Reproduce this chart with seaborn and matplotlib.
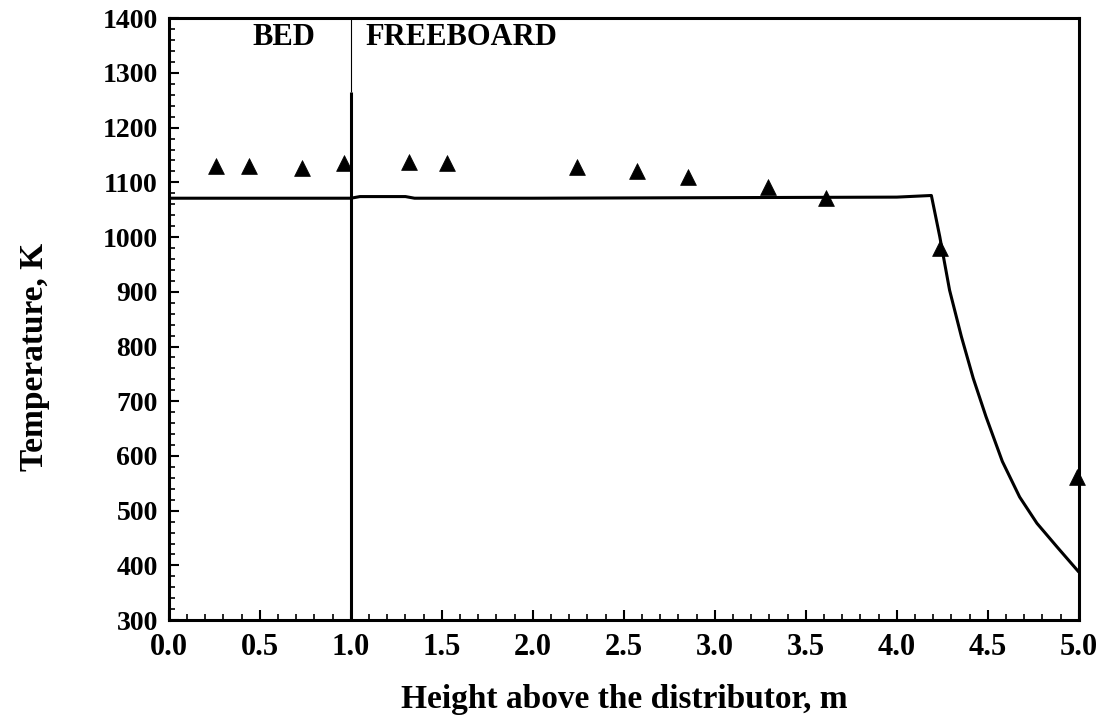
import numpy as np
import pandas as pd
import matplotlib
matplotlib.use("Agg")
import matplotlib.pyplot as plt
from matplotlib.ticker import MultipleLocator
import seaborn as sns

# Model prediction: temperature profile along the column
model_height = [0.0, 1.0, 1.05, 1.30, 1.35, 2.0, 3.0, 4.0, 4.19,
                4.236, 4.29, 4.355, 4.42, 4.49, 4.58, 4.675, 4.77, 4.88, 5.0]
model_temp = [1071, 1071, 1074, 1074, 1071, 1071, 1072, 1073, 1076,
              1001, 903, 818, 742, 672, 590, 525, 477, 434, 388]

# Measured temperatures
meas_height = [0.26, 0.44, 0.73, 0.96, 1.32, 1.53, 2.24, 2.57, 2.85,
               3.29, 3.61, 4.24, 4.99]
meas_temp = [1129, 1129, 1126, 1135, 1138, 1135, 1128, 1120, 1109,
             1091, 1071, 980, 562]

bed_height = 1.0
region_labels = ["BED", "FREEBOARD"]
x_ticks = [0.0, 0.5, 1.0, 1.5, 2.0, 2.5, 3.0, 3.5, 4.0, 4.5, 5.0]
y_ticks = [300, 400, 500, 600, 700, 800, 900, 1000, 1100, 1200, 1300, 1400]

sns.set_style("ticks")
plt.rcParams["font.family"] = ["Liberation Serif", "DejaVu Serif"]
plt.rcParams["font.weight"] = "bold"
plt.rcParams["text.color"] = "black"
plt.rcParams["axes.labelcolor"] = "black"
plt.rcParams["xtick.color"] = "black"
plt.rcParams["ytick.color"] = "black"
plt.rcParams["axes.edgecolor"] = "black"

model_df = pd.DataFrame({"height": model_height, "temp": model_temp})
meas_df = pd.DataFrame({"height": meas_height, "temp": meas_temp})

fig = plt.figure(figsize=(11.11, 7.27), dpi=100)
ax = fig.add_axes([0.152, 0.147, 0.819, 0.828])

sns.lineplot(data=model_df, x="height", y="temp", sort=False, estimator=None,
             color="black", linewidth=2.2, ax=ax)
sns.scatterplot(data=meas_df, x="height", y="temp", marker="^", s=130,
                color="black", edgecolor="black", linewidth=0.5, ax=ax,
                clip_on=False, zorder=5)

# Bed / freeboard boundary
ax.vlines(bed_height, 300, 1265, color="black", linewidth=2.2)
ax.vlines(bed_height, 1265, 1400, color="black", linewidth=0.8)

ax.text(0.63, 1392, region_labels[0], ha="center", va="top",
        fontsize=22, fontweight="bold", color="black")
ax.text(1.61, 1392, region_labels[1], ha="center", va="top",
        fontsize=22, fontweight="bold", color="black")

ax.set_xlim(0, 5.0)
ax.set_ylim(300, 1400)
ax.set_xticks(x_ticks)
ax.set_yticks(y_ticks)
ax.set_xticklabels([f"{v:.1f}" for v in x_ticks])
ax.set_yticklabels([str(v) for v in y_ticks])
ax.xaxis.set_minor_locator(MultipleLocator(0.1))
ax.yaxis.set_minor_locator(MultipleLocator(20))
ax.tick_params(which="major", direction="in", length=7, width=1.5,
               pad=8, top=False, right=False)
ax.tick_params(which="minor", direction="in", length=4, width=1.2,
               top=False, right=False)
ax.tick_params(axis="x", which="major", labelsize=22, pad=9)
ax.tick_params(axis="y", which="major", labelsize=20, pad=8)
for lab in ax.get_xticklabels() + ax.get_yticklabels():
    lab.set_fontweight("bold")

for sp in ax.spines.values():
    sp.set_linewidth(2.2)
    sp.set_visible(True)

ax.set_xlabel("Height above the distributor, m", fontsize=24,
              fontweight="bold", labelpad=16)
ax.set_ylabel("Temperature, K", fontsize=24, fontweight="bold")
ax.yaxis.set_label_coords(-0.131, 0.437)

fig.savefig("out.png", dpi=100)
